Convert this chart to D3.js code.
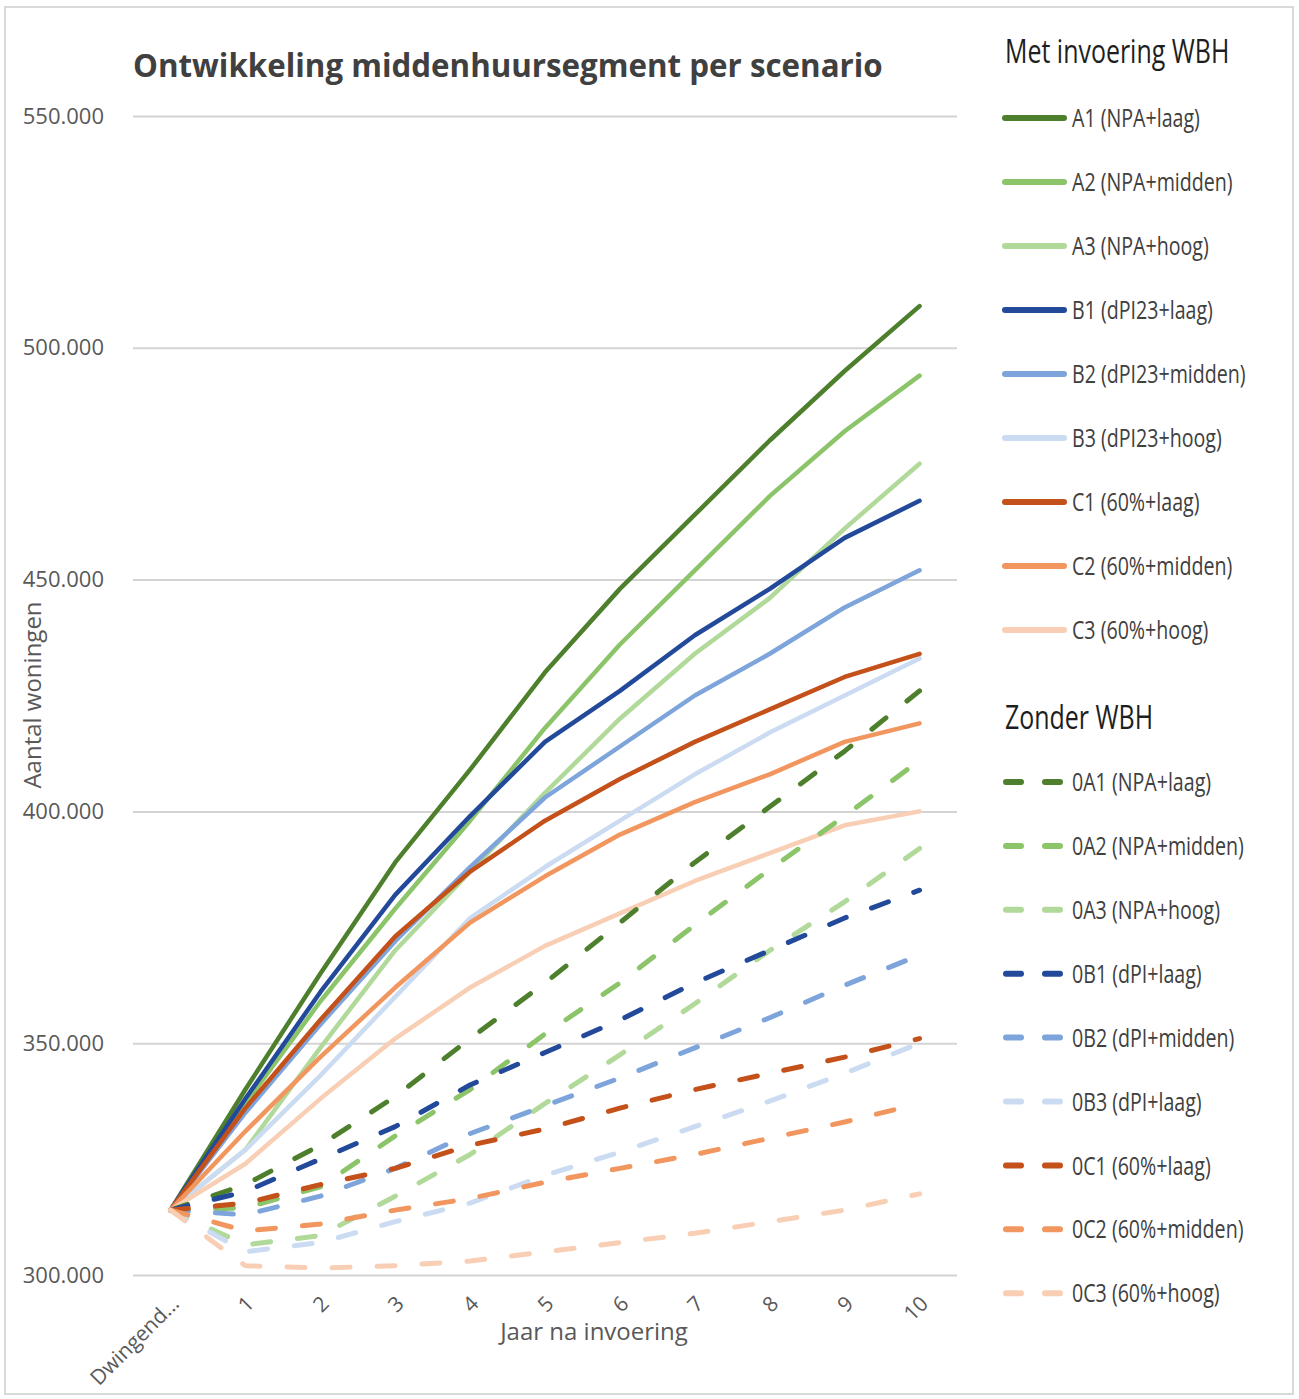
<!DOCTYPE html>
<html>
<head>
<meta charset="utf-8">
<script src="https://cdn.jsdelivr.net/npm/d3@7/dist/d3.min.js"></script>
<style>
  html, body { margin: 0; padding: 0; background: #fff; }
  svg { display: block; }
</style>
</head>
<body>
<svg id="chart" width="1299" height="1399"></svg>
<script>
// ---------- DATA ----------
const categories = ["Dwingend...", "1", "2", "3", "4", "5", "6", "7", "8", "9", "10"];
const yTicks = [300000, 350000, 400000, 450000, 500000, 550000];

const A1 = [314000, 340000, 365000, 389000, 409000, 430000, 448000, 464000, 480000, 495000, 509000];
const A2 = [314000, 337000, 359000, 379000, 398000, 418000, 436000, 452000, 468000, 482000, 494000];
const A3 = [314000, 327000, 349000, 370000, 387000, 404000, 420000, 434000, 446000, 461000, 475000];
const B1 = [314000, 338000, 361000, 382000, 399000, 415000, 426000, 438000, 448000, 459000, 467000];
const B2 = [314000, 335000, 354000, 372000, 388000, 403000, 414000, 425000, 434000, 444000, 452000];
const B3 = [314000, 327000, 343000, 360000, 377000, 388000, 398000, 408000, 417000, 425000, 433000];
const C1 = [314000, 336000, 355000, 373000, 387000, 398000, 407000, 415000, 422000, 429000, 434000];
const C2 = [314000, 331000, 347000, 362000, 376000, 386000, 395000, 402000, 408000, 415000, 419000];
const C3 = [314000, 324000, 338000, 351000, 362000, 371000, 378000, 385000, 391000, 397000, 400000];

const zA1 = [314000, 319500, 328000, 338500, 351000, 363000, 376000, 389000, 401000, 413000, 426000];
const zA2 = [314000, 314500, 319000, 330000, 340000, 352000, 363000, 375500, 387500, 399000, 411000];
const zA3 = [314000, 306500, 308500, 317000, 326000, 337000, 347500, 358500, 370000, 380500, 392000];
const zB1 = [314000, 318000, 325000, 332000, 341000, 348000, 355000, 363000, 370000, 377000, 383000];
const zB2 = [314000, 313000, 317000, 323000, 330500, 336500, 342500, 349000, 355500, 362500, 369000];
const zB3 = [314000, 305000, 307000, 311500, 315500, 321500, 326500, 332000, 337500, 343500, 350000];
const zC1 = [314000, 315500, 319500, 323000, 328000, 331500, 336000, 340000, 343500, 347000, 351000];
const zC2 = [314000, 309500, 311000, 314000, 316500, 320000, 323000, 326000, 329500, 333000, 337000];
const zC3 = [314000, 302000, 301500, 302000, 303000, 305000, 307000, 309000, 311500, 314000, 317500];

const withNames = ["A1 (NPA+laag)", "A2 (NPA+midden)", "A3 (NPA+hoog)", "B1 (dPI23+laag)", "B2 (dPI23+midden)", "B3 (dPI23+hoog)", "C1 (60%+laag)", "C2 (60%+midden)", "C3 (60%+hoog)"];
const withoutNames = ["0A1 (NPA+laag)", "0A2 (NPA+midden)", "0A3 (NPA+hoog)", "0B1 (dPI+laag)", "0B2 (dPI+midden)", "0B3 (dPI+laag)", "0C1 (60%+laag)", "0C2 (60%+midden)", "0C3 (60%+hoog)"];
const withValues = [A1, A2, A3, B1, B2, B3, C1, C2, C3];
const withoutValues = [zA1, zA2, zA3, zB1, zB2, zB3, zC1, zC2, zC3];
const palette = ["#4e7f2c", "#8cc46a", "#b0d99a", "#234a9a", "#7ea4dc", "#cbdbf1", "#c4501a", "#f2965f", "#f8cfb5"];

const title = "Ontwikkeling middenhuursegment per scenario";
const yTitle = "Aantal woningen";
const xTitle = "Jaar na invoering";
const legendHeader1 = "Met invoering WBH";
const legendHeader2 = "Zonder WBH";

// ---------- CHART ----------
const svg = d3.select("#chart");
const nl = d3.formatLocale({ decimal: ",", thousands: ".", grouping: [3], currency: ["€", ""] });
const fmt = nl.format(",.0f");

svg.append("rect").attr("x", 5).attr("y", 7).attr("width", 1288).attr("height", 1387)
  .attr("fill", "#fff").attr("stroke", "#d9d9d9").attr("stroke-width", 2);

const x = d3.scaleBand().domain(categories).range([133, 957]).padding(0);
const xc = c => x(c) + x.bandwidth() / 2;
const y = d3.scaleLinear().domain([300000, 550000]).range([1275, 116]);

// gridlines
const yAxis = d3.axisLeft(y).tickValues(yTicks).tickSize(-(957 - 133)).tickFormat(fmt);
const gy = svg.append("g").attr("transform", "translate(133,0)").call(yAxis);
gy.select(".domain").remove();
gy.selectAll(".tick line").attr("stroke", "#d4d4d4").attr("stroke-width", 2);
gy.selectAll(".tick text").attr("x", -29).attr("fill", "#595959")
  .style("font-family", "'Open Sans', sans-serif").style("font-size", "22px");

// x axis labels
const xAxis = d3.axisBottom(x).tickSize(0).tickPadding(0);
const gx = svg.append("g").attr("transform", "translate(0,1275)").call(xAxis);
gx.select(".domain").remove();
gx.selectAll(".tick text")
  .attr("fill", "#595959")
  .style("font-family", "'Open Sans', sans-serif").style("font-size", "21px")
  .attr("text-anchor", "end")
  .attr("dy", "0")
  .attr("y", 0)
  .attr("transform", "translate(10,30) rotate(-45)");

// titles
svg.append("text").attr("x", 133).attr("y", 77).text(title)
  .attr("fill", "#404040").style("font-family", "'Open Sans', sans-serif")
  .style("font-size", "31.3px").style("font-weight", "bold");

svg.append("text").attr("transform", "translate(41,695) rotate(-90)").attr("text-anchor", "middle")
  .text(yTitle).attr("fill", "#595959").style("font-family", "'Open Sans', sans-serif").style("font-size", "24px");

svg.append("text").attr("x", 594).attr("y", 1340).attr("text-anchor", "middle")
  .text(xTitle).attr("fill", "#595959").style("font-family", "'Open Sans', sans-serif").style("font-size", "24px");

// lines
const line = d3.line().x((d, i) => xc(categories[i])).y(d => y(d));
const plot = svg.append("g");
withValues.forEach((vals, i) => {
  plot.append("path").datum(vals).attr("d", line)
    .attr("fill", "none").attr("stroke", palette[i]).attr("stroke-width", 4.5)
    .attr("stroke-linejoin", "round").attr("stroke-linecap", "round");
});
withoutValues.forEach((vals, i) => {
  plot.append("path").datum(vals).attr("d", line)
    .attr("fill", "none").attr("stroke", palette[i]).attr("stroke-width", 5)
    .attr("stroke-dasharray", "18 27")
    .attr("stroke-linejoin", "round").attr("stroke-linecap", "round");
});

// legend
const leg = svg.append("g");
function header(txt, yy) {
  leg.append("g").attr("transform", `translate(1005,${yy}) scale(0.78,1)`)
    .append("text").attr("dy", "0.35em").text(txt)
    .attr("fill", "#1e1e1e").style("font-family", "'Open Sans', sans-serif").style("font-size", "32px");
}
function item(txt, color, yy, dashed) {
  leg.append("line").attr("x1", dashed ? 1006 : 1005).attr("x2", dashed ? 1060 : 1064)
    .attr("y1", yy).attr("y2", yy).attr("stroke", color).attr("stroke-width", 6)
    .attr("stroke-linecap", "round")
    .attr("stroke-dasharray", dashed ? "15 24" : null);
  leg.append("g").attr("transform", `translate(1072,${yy}) scale(0.755,1)`)
    .append("text").attr("dy", "0.35em").text(txt)
    .attr("fill", "#404040").style("font-family", "'Open Sans', sans-serif").style("font-size", "26px");
}
header(legendHeader1, 52);
withNames.forEach((n, i) => item(n, palette[i], 118 + i * 64, false));
header(legendHeader2, 718);
withoutNames.forEach((n, i) => item(n, palette[i], 782 + i * 63.9, true));
</script>
</body>
</html>
